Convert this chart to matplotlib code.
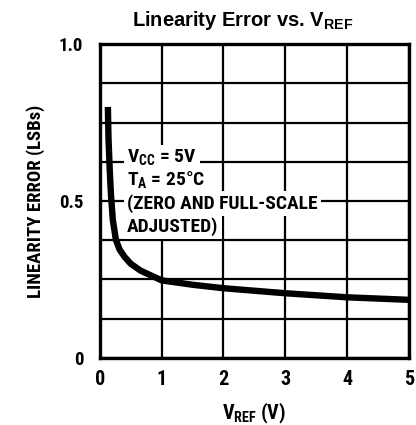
import matplotlib
matplotlib.use("Agg")
import matplotlib.pyplot as plt
from matplotlib import font_manager as fm
import numpy as np

# values
vref = [0.13, 0.14, 0.16, 0.18, 0.21, 0.26, 0.32, 0.40, 0.50, 0.66, 1.0, 1.5, 2.0, 3.0, 4.0, 5.0]
lin_err = [0.80, 0.70, 0.60, 0.52, 0.44, 0.376, 0.345, 0.322, 0.300, 0.278, 0.247, 0.233, 0.222, 0.206, 0.193, 0.185]

x_ticks = [0, 1, 2, 3, 4, 5]
y_ticks = [0, 0.5, 1.0]
y_tick_labels = ["0", "0.5", "1.0"]

note_lines = ["V$_{\\mathregular{CC}}$ = 5V", "T$_{\\mathregular{A}}$ = 25°C",
              "(ZERO AND FULL-SCALE", "ADJUSTED)"]


def find_font(names, size):
    files = fm.findSystemFonts()
    for n in names:
        for f in files:
            if f.split("/")[-1].lower() == n.lower():
                return fm.FontProperties(fname=f, size=size)
    return fm.FontProperties(family="DejaVu Sans", weight="bold", stretch="condensed", size=size)


def wide_bold(families, size):
    # a bold, non-condensed face for the title
    for fam in families:
        for e in fm.fontManager.ttflist:
            fn = e.fname.lower()
            if (e.name == fam and e.weight in (700, "bold") and e.style == "normal"
                    and "narrow" not in fn and "cond" not in fn):
                return fm.FontProperties(fname=e.fname, size=size)
    return fm.FontProperties(family="DejaVu Sans", weight="bold", size=size)


cond_names = ["RobotoCondensed-Bold.ttf", "LiberationSansNarrow-Bold.ttf",
              "ArchivoNarrow-Bold.ttf", "BarlowCondensed-Bold.ttf",
              "AsapCondensed-Bold.ttf", "DejaVuSansCondensed-Bold.ttf"]
xtick_fp = find_font(cond_names, 14.5)
ytick_fp = find_font(cond_names, 13.5)
xlabel_fp = find_font(cond_names, 14.5)
ylabel_fp = find_font(cond_names, 13.5)
note_fp = find_font(cond_names, 14)
title_fp = wide_bold(["Liberation Sans", "Arimo", "Roboto", "Inter", "Open Sans"], 14.5)

fig = plt.figure(figsize=(4.16, 4.25), dpi=100)
ax = fig.add_axes([0.240, 0.158, 0.743, 0.738])

ax.plot(vref, lin_err, color="black", lw=4.6, solid_capstyle="butt", zorder=3)

ax.set_xlim(0, 5)
ax.set_ylim(0, 1.0)
ax.set_xticks(x_ticks)
ax.set_yticks(y_ticks)
ax.set_yticklabels(y_tick_labels)
ax.set_yticks(np.arange(0, 1.01, 0.125), minor=True)
ax.grid(True, which="both", color="black", lw=1.6)
ax.tick_params(which="both", length=0)
ax.tick_params(axis="x", pad=9)
ax.tick_params(axis="y", pad=12)
for lab in ax.get_xticklabels():
    lab.set_fontproperties(xtick_fp)
for lab in ax.get_yticklabels():
    lab.set_fontproperties(ytick_fp)
for s in ax.spines.values():
    s.set_linewidth(2.4)

ax.set_xlabel(r"V$_{\mathregular{REF}}$ (V)", fontproperties=xlabel_fp, labelpad=8)
ax.set_ylabel("LINEARITY ERROR (LSBs)", fontproperties=ylabel_fp, labelpad=10)

fig.text(0.584, 0.951, r"Linearity Error vs. V$_{\mathregular{REF}}$", ha="center",
         va="center", fontproperties=title_fp)

for i, line in enumerate(note_lines):
    ax.text(0.44, 0.621 - i * 0.073, line, ha="left", va="baseline",
            fontproperties=note_fp, zorder=4,
            bbox=dict(facecolor="white", edgecolor="none", pad=2.5))

fig.savefig("out.png", dpi=100)
